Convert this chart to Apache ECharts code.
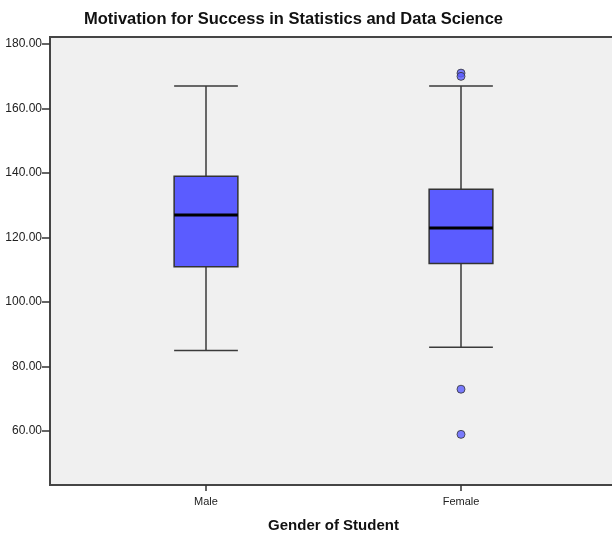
<!DOCTYPE html>
<html>
<head>
<meta charset="utf-8">
<script src="https://cdn.jsdelivr.net/npm/echarts@6/dist/echarts.min.js"></script>
<style>
  html, body { margin: 0; padding: 0; background: #fff; }
  #chart { width: 612px; height: 536px; }
</style>
</head>
<body>
<div id="chart"></div>
<script>
// Groups on the horizontal axis
const genders = ['Male', 'Female'];
// Five-number summaries per group: [min whisker, Q1, median, Q3, max whisker]
const maleSummary = [85, 111, 127, 139, 167];
const femaleSummary = [86, 112, 123, 135, 167];
// Outlying scores (Female group only)
const femaleOutliers = [171, 170, 73, 59];
// Vertical axis ticks
const yTicks = [60, 80, 100, 120, 140, 160, 180];
const yMin = 43.3;
const yMax = 182.2;

const FONT = 'Arial, "Liberation Sans", sans-serif';

const boxData = [
  [0].concat(maleSummary),
  [1].concat(femaleSummary)
];
const outlierData = femaleOutliers.map(v => [1, v]);

function renderBox(params, api) {
  const cat = api.value(0);
  const band = api.size([1, 0])[0];
  const boxW = band * 0.25;
  const capW = band * 0.125;
  const pMin = api.coord([cat, api.value(1)]);
  const pQ1 = api.coord([cat, api.value(2)]);
  const pMed = api.coord([cat, api.value(3)]);
  const pQ3 = api.coord([cat, api.value(4)]);
  const pMax = api.coord([cat, api.value(5)]);
  const x = pMed[0];
  const lineStyle = { stroke: '#3a3a3a', lineWidth: 1.5 };
  return {
    type: 'group',
    children: [
      { type: 'line', shape: { x1: x, y1: pMax[1], x2: x, y2: pQ3[1] }, style: lineStyle },
      { type: 'line', shape: { x1: x, y1: pQ1[1], x2: x, y2: pMin[1] }, style: lineStyle },
      { type: 'line', shape: { x1: x - capW, y1: pMax[1], x2: x + capW, y2: pMax[1] }, style: lineStyle },
      { type: 'line', shape: { x1: x - capW, y1: pMin[1], x2: x + capW, y2: pMin[1] }, style: lineStyle },
      { type: 'rect', shape: { x: x - boxW / 2, y: pQ3[1], width: boxW, height: pQ1[1] - pQ3[1] },
        style: { fill: '#5b5cff', stroke: '#333333', lineWidth: 1.5 } },
      { type: 'line', shape: { x1: x - boxW / 2, y1: pMed[1], x2: x + boxW / 2, y2: pMed[1] },
        style: { stroke: '#000', lineWidth: 3 } }
    ]
  };
}

const chart = echarts.init(document.getElementById('chart'), null, { renderer: 'canvas' });
chart.setOption({
  backgroundColor: '#ffffff',
  animation: false,
  title: {
    text: 'Motivation for Success in Statistics and Data Science',
    left: 79,
    top: 6,
    textStyle: { fontFamily: FONT, fontSize: 16.5, fontWeight: 'bold', color: '#111' }
  },
  grid: [
    // plot frame, running off the right edge
    { left: 50, top: 37, right: -30, height: 448, show: true, outerBoundsMode: 'none',
      backgroundColor: '#f0f0f0', borderColor: '#454545', borderWidth: 2 },
    // data area
    { left: 78.5, top: 37, width: 510, height: 448, outerBoundsMode: 'none' }
  ],
  xAxis: [
    { gridIndex: 0, type: 'value', show: false, min: 0, max: 1 },
    { gridIndex: 1, type: 'category', data: genders, boundaryGap: true,
      axisLine: { show: false },
      axisTick: { show: true, alignWithLabel: true, length: 6, lineStyle: { color: '#333', width: 1.5 } },
      axisLabel: { fontFamily: FONT, fontSize: 11, color: '#222', margin: 11 },
      splitLine: { show: false },
      name: 'Gender of Student', nameLocation: 'middle', nameGap: 33,
      nameTextStyle: { fontFamily: FONT, fontSize: 15, fontWeight: 'bold', color: '#111' } }
  ],
  yAxis: [
    { gridIndex: 0, type: 'value', min: yMin, max: yMax,
      axisLine: { show: false },
      axisTick: { show: true, length: 8, customValues: yTicks, lineStyle: { color: '#333', width: 1.5 } },
      axisLabel: { show: true, customValues: yTicks, fontFamily: FONT, fontSize: 12, color: '#222', margin: 8,
        formatter: v => Number(v).toFixed(2) },
      splitLine: { show: false } },
    { gridIndex: 1, type: 'value', min: yMin, max: yMax, show: false }
  ],
  series: [
    { type: 'custom', xAxisIndex: 1, yAxisIndex: 1, data: boxData, renderItem: renderBox,
      encode: { x: 0, y: [1, 2, 3, 4, 5] }, z: 3 },
    { type: 'scatter', xAxisIndex: 1, yAxisIndex: 1, data: outlierData, symbol: 'circle', symbolSize: 8,
      itemStyle: { color: '#5b5cff', borderColor: '#333', borderWidth: 1 }, z: 4 }
  ]
});
</script>
</body>
</html>
